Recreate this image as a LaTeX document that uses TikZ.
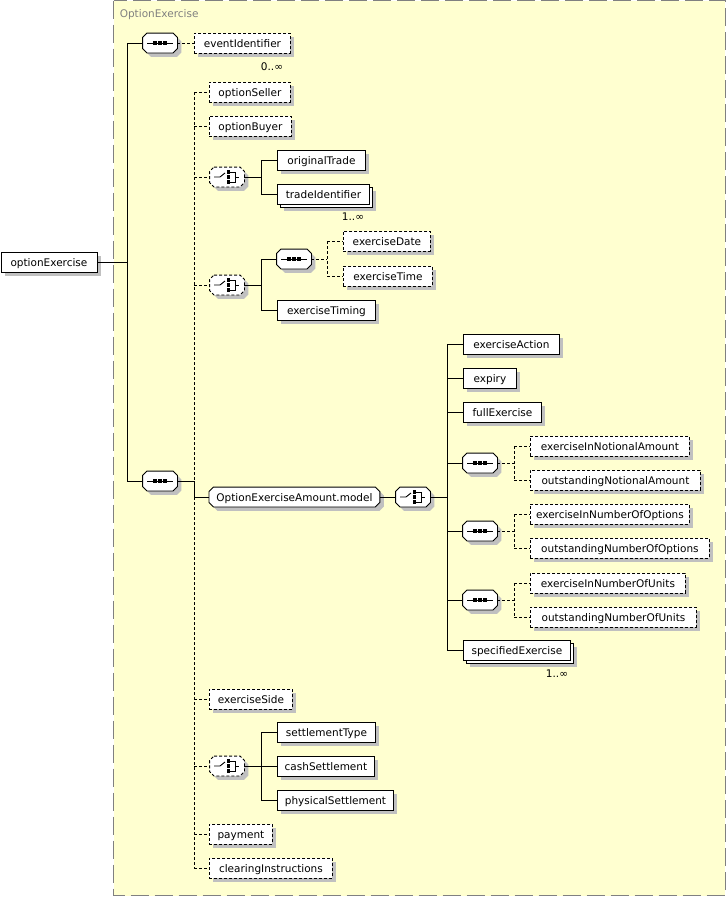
\documentclass[tikz,border=0pt]{standalone}
\usepackage{fontspec}
\setmainfont{DejaVu Sans}
\usetikzlibrary{shadows}
\definecolor{groupfill}{RGB}{255,255,208}
\definecolor{groupgray}{RGB}{128,128,128}
\definecolor{shadowgray}{RGB}{192,192,192}
% octagon round a node: name, x offset, y offset
\newcommand\octpath[3]{([xshift=#2+4.5pt,yshift=#3]#1.north west)
  -- ([xshift=#2-4.5pt,yshift=#3]#1.north east) -- ([xshift=#2,yshift=#3-4.5pt]#1.north east)
  -- ([xshift=#2,yshift=#3+4.5pt]#1.south east) -- ([xshift=#2-4.5pt,yshift=#3]#1.south east)
  -- ([xshift=#2+4.5pt,yshift=#3]#1.south west) -- ([xshift=#2,yshift=#3+4.5pt]#1.south west)
  -- ([xshift=#2,yshift=#3-4.5pt]#1.north west) -- cycle}
\tikzset{
  lbl/.style={font=\fontsize{10.5}{12}\selectfont, text height=9.5pt, text depth=1pt},
  box/.style={lbl, draw, fill=white, anchor=west, minimum height=20pt,
    inner xsep=3pt, inner ysep=0pt},
  elem/.style={box, drop shadow={shadow xshift=4pt, shadow yshift=-4pt,
    fill=shadowgray, opacity=1}},
  optelem/.style={elem, dash pattern=on 3pt off 2pt},
  optline/.style={dash pattern=on 3pt off 2pt},
  octframe/.style={append after command={\pgfextra{\edef\ic{\tikzlastnode}
    \fill[shadowgray] \octpath{\ic}{4pt}{-4pt};
    \draw[fill=white, #1] \octpath{\ic}{0pt}{0pt};}}},
  octframe/.default={},
  icon/.style={octframe={#1}, minimum width=34pt, minimum height=19pt, inner sep=0pt},
  icon/.default={},
  seqnode/.style={icon, append after command={\pgfextra{\edef\ic{\tikzlastnode}
    \draw ([xshift=-13pt]\ic.center) -- ([xshift=13pt]\ic.center);
    \foreach \d in {-5,0,5}
      \fill ([xshift=\d pt]\ic.center) +(-1.6pt,-1.6pt) rectangle +(1.6pt,1.6pt);}}},
  choicenode/.style={icon={#1}, append after command={\pgfextra{\edef\ic{\tikzlastnode}
    \draw ([xshift=-13pt]\ic.center) -- ([xshift=-7pt]\ic.center)
      -- ([xshift=-2pt,yshift=4pt]\ic.center);
    \draw ([xshift=3pt,yshift=5pt]\ic.center) -- ([xshift=8pt,yshift=5pt]\ic.center)
      -- ([xshift=8pt,yshift=-5pt]\ic.center) -- ([xshift=3pt,yshift=-5pt]\ic.center);
    \draw ([xshift=8pt]\ic.center) -- ([xshift=12pt]\ic.center);
    \foreach \d in {-5,0,5}
      \fill ([xshift=1.5pt,yshift=\d pt]\ic.center) +(-1.6pt,-1.6pt) rectangle +(1.6pt,1.6pt);}}},
  choicenode/.default={},
  optchoice/.style={choicenode={dash pattern=on 3pt off 2pt}},
  mult/.style={font=\fontsize{10.5}{12}\selectfont}
}
\begin{document}
\begin{tikzpicture}[x=1pt, y=-1pt, line width=0.9pt]
  \useasboundingbox (0,0) rectangle (726,897);
  % group frame
  \draw[fill=groupfill, draw=groupgray, line width=1.3pt, dash pattern=on 18pt off 6pt]
    (113.5,0.6) rectangle (725.3,895.5);
  \node[lbl, anchor=west, text=groupgray] (groupLabel) at (116,13) {OptionExercise};

  % root element
  \node[elem, minimum width=96] (root) at (0.5,262) {optionExercise};
  \node[seqnode] (seqA) at (160,43) {};
  \node[seqnode] (seqB) at (160,481) {};
  \node[optelem, minimum width=96] (eventId) at (194,43) {eventIdentifier};
  \node[mult] (multEvent) at (272,67) {0..∞};

  % children of the main sequence
  \node[optelem, minimum width=81] (seller) at (209,92) {optionSeller};
  \node[optelem, minimum width=82] (buyer) at (209,126) {optionBuyer};
  \node[optchoice] (choiceA) at (227,177) {};
  \node[elem, minimum width=88] (origTrade) at (277,160) {originalTrade};
  \node[elem, minimum width=92] (tradeIdBack) at (280,197) {};
  \node[box, minimum width=92] (tradeId) at (277,194) {tradeIdentifier};
  \node[mult] (multTrade) at (353,217) {1..∞};
  \node[optchoice] (choiceB) at (227,285) {};
  \node[seqnode] (seqC) at (294,259) {};
  \node[optelem, minimum width=87] (exDate) at (343,241) {exerciseDate};
  \node[optelem, minimum width=89] (exTime) at (343,276) {exerciseTime};
  \node[elem, minimum width=98] (exTiming) at (277,310) {exerciseTiming};

  % amount model group
  \node[lbl, octframe, anchor=west, minimum width=170, minimum height=19pt, inner ysep=0pt]
    (model) at (209,497) {\phantom{OptionExerciseAmount.model}};
  \node[lbl] (modelText) at (model) {OptionExerciseAmount.model};
  \node[choicenode] (choiceC) at (413,497) {};
  \node[elem, minimum width=96] (exAction) at (463,344) {exerciseAction};
  \node[elem, minimum width=53] (expiry) at (463,378) {expiry};
  \node[elem, minimum width=78] (fullEx) at (463,412) {fullExercise};
  \node[seqnode] (seqD) at (480,463) {};
  \node[optelem, minimum width=159] (exNotional) at (530,446) {exerciseInNotionalAmount};
  \node[optelem, minimum width=170] (outNotional) at (530,480) {outstandingNotionalAmount};
  \node[seqnode] (seqE) at (480,531) {};
  \node[optelem, minimum width=159] (exOptions) at (530,514) {exerciseInNumberOfOptions};
  \node[optelem, minimum width=179] (outOptions) at (530,548) {outstandingNumberOfOptions};
  \node[seqnode] (seqF) at (480,600) {};
  \node[optelem, minimum width=155] (exUnits) at (530,583) {exerciseInNumberOfUnits};
  \node[optelem, minimum width=166] (outUnits) at (530,617) {outstandingNumberOfUnits};
  \node[elem, minimum width=107] (specExBack) at (466,653) {};
  \node[box, minimum width=107] (specEx) at (463,650) {specifiedExercise};
  \node[mult] (multSpec) at (557,674) {1..∞};

  % rest of the sequence
  \node[optelem, minimum width=83] (exSide) at (209,699) {exerciseSide};
  \node[optchoice] (choiceD) at (227,766) {};
  \node[elem, minimum width=98] (settleType) at (277,732) {settlementType};
  \node[elem, minimum width=97] (cashSettle) at (277,766) {cashSettlement};
  \node[elem, minimum width=116] (physSettle) at (277,800) {physicalSettlement};
  \node[optelem, minimum width=63] (payment) at (209,834) {payment};
  \node[optelem, minimum width=123] (clearing) at (209,868) {clearingInstructions};

  % connectors
  \coordinate (trunk) at (128,262);
  \draw (root.east) -- (trunk);
  \draw (seqA.west) -- ++(-15,0) |- (seqB.west);
  \draw[optline] (seqA.east) -- (eventId.west);
  \coordinate (bus) at (194,481);
  \draw[optline] (bus |- seller) -- (bus |- clearing);
  \draw (seqB.east) -- (bus) |- (model.west);
  \foreach \n in {seller,buyer,choiceA,choiceB,exSide,choiceD,payment,clearing}
    \draw[optline] (bus |- \n) -- (\n.west);
  % trade choice
  \draw (choiceA.east) -- ++(17,0) coordinate (busA);
  \draw (busA |- origTrade) -- (busA |- tradeId);
  \foreach \n in {origTrade,tradeId}
    \draw (busA |- \n) -- (\n.west);
  % date choice
  \draw (choiceB.east) -- ++(17,0) coordinate (busB);
  \draw (busB |- seqC) -- (busB |- exTiming);
  \foreach \n in {seqC,exTiming}
    \draw (busB |- \n) -- (\n.west);
  \draw[optline] (seqC.east) -- ++(16,0) coordinate (busC);
  \draw[optline] (busC |- exDate) -- (busC |- exTime);
  \foreach \n in {exDate,exTime}
    \draw[optline] (busC |- \n) -- (\n.west);
  % amount choice
  \draw (model.east) -- (choiceC.west);
  \draw (choiceC.east) -- ++(17,0) coordinate (busD);
  \draw (busD |- exAction) -- (busD |- specEx);
  \foreach \n in {exAction,expiry,fullEx,seqD,seqE,seqF,specEx}
    \draw (busD |- \n) -- (\n.west);
  \draw[optline] (seqD.east) -- ++(17,0) coordinate (busE);
  \draw[optline] (busE |- exNotional) -- (busE |- outNotional);
  \foreach \n in {exNotional,outNotional}
    \draw[optline] (busE |- \n) -- (\n.west);
  \draw[optline] (seqE.east) -- ++(17,0) coordinate (busF);
  \draw[optline] (busF |- exOptions) -- (busF |- outOptions);
  \foreach \n in {exOptions,outOptions}
    \draw[optline] (busF |- \n) -- (\n.west);
  \draw[optline] (seqF.east) -- ++(17,0) coordinate (busG);
  \draw[optline] (busG |- exUnits) -- (busG |- outUnits);
  \foreach \n in {exUnits,outUnits}
    \draw[optline] (busG |- \n) -- (\n.west);
  % settlement choice
  \draw (choiceD.east) -- ++(17,0) coordinate (busH);
  \draw (busH |- settleType) -- (busH |- physSettle);
  \foreach \n in {settleType,cashSettle,physSettle}
    \draw (busH |- \n) -- (\n.west);
\end{tikzpicture}
\end{document}
